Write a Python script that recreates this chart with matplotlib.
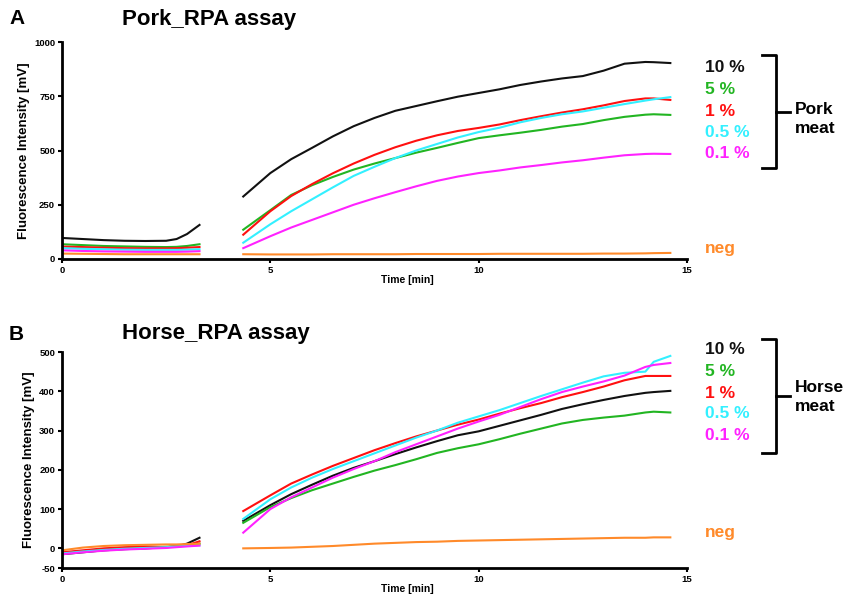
import matplotlib.pyplot as plt
from matplotlib.lines import Line2D

plt.rcParams['font.family'] = ['Liberation Sans', 'DejaVu Sans']
plt.rcParams['font.weight'] = 'bold'
plt.rcParams['axes.unicode_minus'] = False

# time points (min): before and after the pause in the run
t1 = [0, 0.5, 1, 1.5, 2, 2.5, 2.75, 3.0, 3.3]
t2 = [4.35, 5, 5.5, 6, 6.5, 7, 7.5, 8, 8.5, 9, 9.5, 10, 10.5, 11, 11.5, 12, 12.5, 13, 13.5, 14, 14.2, 14.6]

labels = ['10 %', '5 %', '1 %', '0.5 %', '0.1 %', 'neg']
colors = ['#111111', '#22b522', '#ff1010', '#33f0ff', '#ff22ff', '#ff8a2a']

# Pork RPA assay
pork_a = [
    [97, 92, 87, 84, 83, 84, 92, 115, 157],
    [68, 64, 60, 58, 56, 55, 56, 60, 68],
    [57, 55, 52, 50, 49, 49, 50, 52, 55],
    [50, 47, 45, 43, 42, 42, 42, 43, 45],
    [40, 37, 35, 34, 33, 33, 33, 34, 36],
    [25, 24, 23, 22, 22, 22, 22, 22, 22],
]
pork_b = [
    [288, 396, 460, 512, 565, 612, 650, 683, 705, 727, 748, 765, 782, 802, 818, 832, 843, 868, 900, 908, 907, 903],
    [135, 225, 295, 340, 378, 412, 440, 465, 490, 512, 535, 557, 570, 582, 595, 610, 622, 640, 655, 665, 667, 664],
    [112, 220, 290, 345, 395, 440, 480, 515, 545, 570, 590, 604, 620, 640, 658, 675, 690, 708, 728, 740, 740, 733],
    [75, 160, 220, 275, 330, 383, 425, 465, 500, 530, 560, 585, 605, 630, 650, 667, 680, 697, 714, 730, 736, 746],
    [50, 105, 145, 180, 215, 250, 280, 308, 335, 360, 380, 396, 408, 422, 433, 445, 455, 467, 478, 484, 485, 484],
    [22, 21, 21, 21, 22, 22, 22, 22, 23, 23, 23, 23, 24, 24, 24, 24, 24, 25, 25, 26, 27, 28],
]

# Horse RPA assay
horse_a = [
    [-15, -10, -5, -2, 0, 3, 5, 12, 27],
    [-12, -7, -3, 0, 2, 4, 5, 7, 12],
    [-10, -5, 0, 3, 5, 3, 5, 8, 18],
    [-13, -8, -4, -1, 1, 3, 5, 6, 8],
    [-15, -10, -6, -3, -1, 1, 3, 5, 7],
    [-5, 2, 6, 8, 9, 10, 10, 11, 12],
]
horse_b = [
    [70, 110, 138, 162, 185, 205, 222, 240, 257, 273, 288, 298, 312, 326, 340, 355, 367, 378, 388, 396, 398, 401],
    [65, 105, 128, 148, 165, 182, 198, 212, 227, 243, 255, 265, 278, 292, 305, 318, 327, 333, 338, 346, 348, 346],
    [95, 135, 165, 188, 210, 230, 250, 268, 285, 300, 315, 328, 343, 357, 370, 385, 398, 412, 428, 439, 439, 439],
    [75, 125, 155, 180, 202, 222, 242, 262, 282, 300, 320, 336, 352, 370, 388, 405, 422, 438, 447, 450, 475, 490],
    [40, 100, 130, 155, 180, 202, 222, 245, 265, 285, 305, 323, 340, 360, 380, 398, 412, 425, 440, 462, 467, 472],
    [0, 1, 2, 4, 6, 9, 12, 14, 16, 17, 19, 20, 21, 22, 23, 24, 25, 26, 27, 27, 28, 28],
]

W, H = 855, 607
fig = plt.figure(figsize=(W / 100, H / 100), dpi=100)


def fx(px):
    return px / W


def fy(py):
    return 1 - py / H


def make_panel(rect, seg1, seg2, ylim, yticks, letter, title, title_y, label_ys, bracket, meat, meat_y):
    ax = fig.add_axes(rect)
    for i in range(len(labels)):
        ax.plot(t1, seg1[i], color=colors[i], lw=1.5)
        ax.plot(t2, seg2[i], color=colors[i], lw=1.5)
    ax.set_xlim(0, 15)
    ax.set_ylim(*ylim)
    ax.set_xticks([0, 5, 10, 15])
    ax.set_yticks(yticks)
    for s in ['top', 'right']:
        ax.spines[s].set_visible(False)
    for s in ['left', 'bottom']:
        ax.spines[s].set_linewidth(2)
    ax.tick_params(width=1.5, length=3, labelsize=6.8, pad=2)
    ax.set_xlabel('Time [min]', fontsize=7.5, fontweight='bold', labelpad=3)
    ax.xaxis.set_label_coords(0.552, -0.075)
    ax.set_ylabel('Fluorescence Intensity [mV]', fontsize=9.5, fontweight='bold', labelpad=3)

    fig.text(fx(9), fy(title_y), letter, fontsize=15, fontweight='bold', va='center')
    fig.text(fx(122), fy(title_y), title, fontsize=16, fontweight='bold', va='center')

    for i, lab in enumerate(labels):
        fig.text(fx(705), fy(label_ys[i]), lab, color=colors[i], fontsize=12.5,
                 fontweight='bold', va='center')

    top, bot = bracket
    mid = (top + bot) / 2
    lw = 2
    fig.add_artist(Line2D([fx(762), fx(776), fx(776), fx(762)],
                          [fy(top), fy(top), fy(bot), fy(bot)], color='black', lw=lw,
                          solid_joinstyle='round'))
    fig.add_artist(Line2D([fx(776), fx(790)], [fy(mid), fy(mid)], color='black', lw=lw))
    fig.text(fx(795), fy(meat_y), meat, fontsize=12.5, fontweight='bold', va='center',
             linespacing=1.3)
    return ax


make_panel([62 / W, 1 - 259 / H, 625 / W, 217 / H], pork_a, pork_b,
           (0, 1000), [0, 250, 500, 750, 1000], 'A', 'Pork_RPA assay', 19,
           [68, 90, 111, 132, 153, 249], (55, 168), 'Pork\nmeat', 119)

make_panel([62 / W, 1 - 568 / H, 625 / W, 216 / H], horse_a, horse_b,
           (-50, 500), [-50, 0, 100, 200, 300, 400, 500], 'B', 'Horse_RPA assay', 334,
           [350, 372, 393, 414, 435, 532], (339, 453), 'Horse\nmeat', 397)

fig.savefig('out.png', dpi=100)
